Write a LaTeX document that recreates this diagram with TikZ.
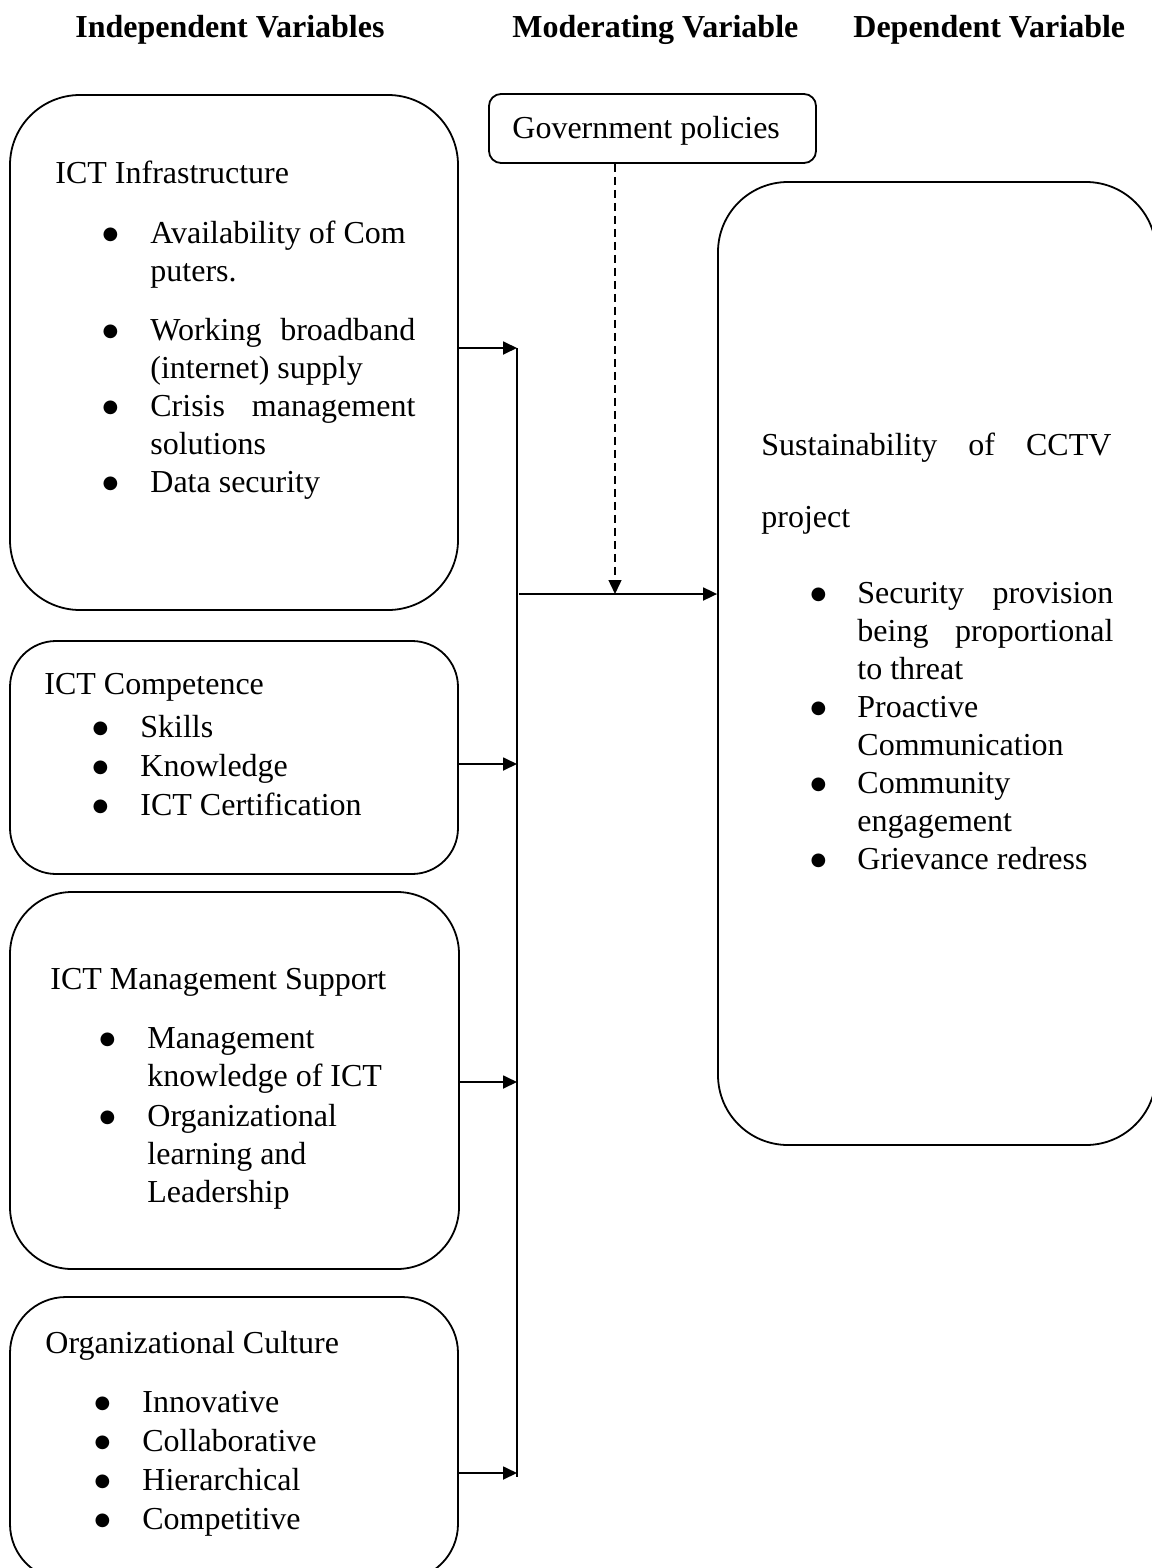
\documentclass[tikz,border=0pt]{standalone}
\usepackage{fontspec}
\setmainfont{Liberation Serif}
\newfontfamily\dotfont{DejaVu Sans}
\usetikzlibrary{arrows.meta}

\tikzset{
  varbox/.style={draw, line width=0.9pt, inner sep=0pt},
  head/.style={anchor=base west, inner sep=0pt, font=\fontsize{16}{19}\selectfont\bfseries},
  title/.style={anchor=base west, inner sep=0pt},
  items/.style={anchor=base west, inner sep=0pt},
  link/.style={line width=0.9pt, -{Triangle[length=7pt,width=6.5pt]}},
}
\newcommand{\bl}{\hspace*{0.6pt}\raisebox{1.6pt}{\dotfont\fontsize{9}{11}\selectfont ●}}

\begin{document}
\begin{tikzpicture}
  [x=0.5pt,y=-0.5pt,font=\fontsize{16}{19}\selectfont]
  \useasboundingbox (0,0) rectangle (1151,1568);

  % headings
  \node [head] (hind) at (75,38) {Independent Variables};
  \node [head] (hmod) at (512,38) {Moderating Variable};
  \node [head] (hdep) at (853,38) {Dependent Variable};

  % boxes
  \node [varbox, rounded corners=35pt, minimum width=224pt, minimum height=257.5pt] (infra) at (234,352.5) {};
  \node [varbox, rounded corners=23pt, minimum width=224pt, minimum height=116.5pt] (comp) at (234,757.5) {};
  \node [varbox, rounded corners=31pt, minimum width=224.5pt, minimum height=188.5pt] (mgmt) at (234.5,1080.5) {};
  \node [varbox, rounded corners=28pt, minimum width=224pt, minimum height=141.5pt] (cult) at (234,1438.5) {};
  \node [varbox, rounded corners=6pt, minimum width=163.5pt, minimum height=34.5pt] (gov) at (652.5,128.5) {};
  \node [varbox, rounded corners=35pt, minimum width=219pt, minimum height=481.5pt] (sust) at (937,663.5) {};

  % texts
  \node [title] (infraT) at (55,184) {ICT Infrastructure};
  \node [items] (infraL) at (101,243) {\begin{tabular}[t]{@{}p{24.5pt}@{}l@{}}
    \bl & Availability of Com\\
        & puters.\\[10.5pt]
    \bl & \makebox[132.5pt][s]{Working broadband}\\
        & (internet) supply\\
    \bl & \makebox[132.5pt][s]{Crisis management}\\
        & solutions\\
    \bl & Data security
  \end{tabular}};

  \node [title] (compT) at (44,694) {ICT Competence};
  \node [items] (compL) at (91,737) {\begin{tabular}[t]{@{}p{24.5pt}@{}l@{}}
    \bl & Skills\\[0.5pt]
    \bl & Knowledge\\[0.5pt]
    \bl & ICT Certification
  \end{tabular}};

  \node [title] (mgmtT) at (50,989) {ICT Management Support};
  \node [items] (mgmtL) at (98,1048) {\begin{tabular}[t]{@{}p{24.5pt}@{}l@{}}
    \bl & Management\\
        & knowledge of ICT\\[1pt]
    \bl & Organizational\\
        & learning and\\
        & Leadership
  \end{tabular}};

  \node [title] (cultT) at (45,1353) {Organizational Culture};
  \node [items] (cultL) at (93,1412) {\begin{tabular}[t]{@{}p{24.5pt}@{}l@{}}
    \bl & Innovative\\[0.5pt]
    \bl & Collaborative\\[0.5pt]
    \bl & Hierarchical\\[0.5pt]
    \bl & Competitive
  \end{tabular}};

  \node [title] (govT) at (512,139) {Government policies};

  \node [title] (sustT) at (761,455) {\begin{tabular}[t]{@{}l@{}}
    \makebox[175pt][s]{Sustainability of CCTV}\\[17pt]
    project
  \end{tabular}};
  \node [items] (sustL) at (809,603) {\begin{tabular}[t]{@{}p{24pt}@{}l@{}}
    \bl & \makebox[128pt][s]{Security provision}\\
        & \makebox[128pt][s]{being proportional}\\
        & to threat\\
    \bl & Proactive\\
        & Communication\\
    \bl & Community\\
        & engagement\\
    \bl & Grievance redress
  \end{tabular}};

  % connectors
  \coordinate (j1) at (517,348);
  \coordinate (j2) at (517,764);
  \coordinate (j3) at (517,1082);
  \coordinate (j4) at (517,1473);
  \coordinate (jend) at (517,1477);
  \coordinate (mid) at (519,594);
  \coordinate (mod) at (615,594);

  \foreach \src/\dst in {infra/j1,comp/j2,mgmt/j3,cult/j4}
    \draw [link] (\src.east |- \dst) -- (\dst);
  \draw [line width=0.9pt] (j1) -- (jend);
  \draw [link] (mid) -- (sust.west |- mid);
  \draw [link, line width=0.7pt, dash pattern=on 4pt off 2.5pt] (gov.south -| mod) -- (mod);

\end{tikzpicture}
\end{document}
